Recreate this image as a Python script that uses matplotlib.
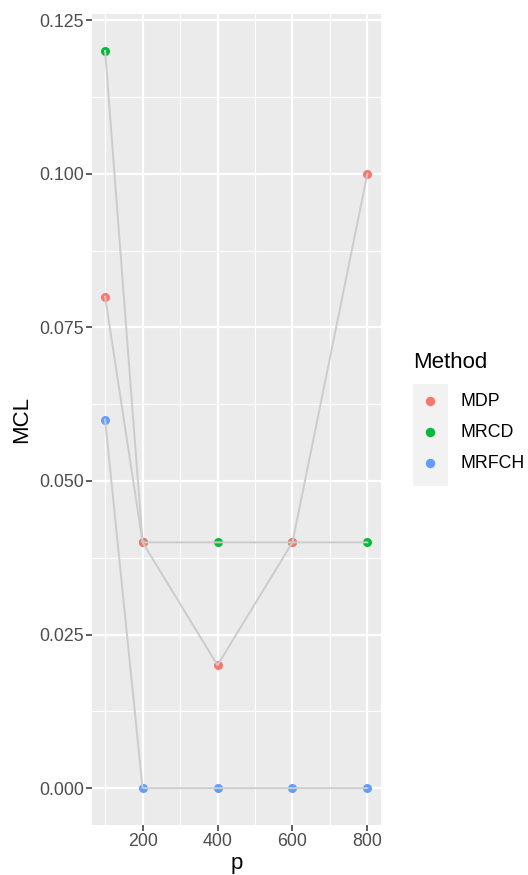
import matplotlib
matplotlib.use("Agg")
import matplotlib.pyplot as plt
from matplotlib.lines import Line2D
from matplotlib.patches import Rectangle
import numpy as np

plt.rcParams['font.family'] = ['Liberation Sans', 'DejaVu Sans']

p = [100, 200, 400, 600, 800]
methods = ["MDP", "MRCD", "MRFCH"]
mcl_mdp = [0.08, 0.04, 0.02, 0.04, 0.10]
mcl_mrcd = [0.12, 0.04, 0.04, 0.04, 0.04]
mcl_mrfch = [0.06, 0.00, 0.00, 0.00, 0.00]
colors = {"MDP": "#F8766D", "MRCD": "#00BA38", "MRFCH": "#619CFF"}
series = {"MDP": mcl_mdp, "MRCD": mcl_mrcd, "MRFCH": mcl_mrfch}

W, H = 528, 875
fig = plt.figure(figsize=(W/100, H/100), dpi=100)
ax = fig.add_axes([92/W, 1-825/H, (380.5-92)/W, (825-14)/H])
ax.set_facecolor("#EBEBEB")

# points (drawn first, lines over them)
for m in ["MRFCH", "MRCD", "MDP"]:
    ax.scatter(p, series[m], s=42, color=colors[m], zorder=3, linewidths=0)
for m in methods:
    ax.plot(p, series[m], color="#CCCCCC", lw=1.4, zorder=4)

ax.set_xlim(65, 835)
ax.set_ylim(-0.006, 0.126)
ax.set_xticks([200, 400, 600, 800])
ax.set_xticks([100, 300, 500, 700], minor=True)
ax.set_yticks([0.0, 0.025, 0.05, 0.075, 0.1, 0.125])
ax.set_yticklabels(["0.000", "0.025", "0.050", "0.075", "0.100", "0.125"])
ax.set_yticks(np.arange(0.0125, 0.125, 0.025), minor=True)
ax.grid(which="major", color="white", lw=1.6, zorder=1)
ax.grid(which="minor", color="white", lw=0.8, zorder=1)
ax.set_axisbelow(True)
for s in ax.spines.values():
    s.set_visible(False)
ax.tick_params(which="major", length=4, width=1.1, color="#333333",
               labelsize=12.8, labelcolor="#4D4D4D", pad=2)
ax.tick_params(which="minor", length=0)
ax.set_xlabel("p", fontsize=16, labelpad=2)
ax.set_ylabel("MCL", fontsize=16, labelpad=5)

# legend (manual, ggplot style)
fig.patches.append(Rectangle((413/W, 1-486/H), 35/W, 102/H, transform=fig.transFigure,
                             facecolor="#F2F2F2", edgecolor="none", zorder=0))
fig.text(413/W, 1-362/H, "Method", fontsize=16, ha="left", va="center")
for i, m in enumerate(methods):
    yy = 1 - (401 + 31*i)/H
    fig.add_artist(Line2D([430/W], [yy], transform=fig.transFigure, marker='o',
                          linestyle='', markersize=6.8, markerfacecolor=colors[m],
                          markeredgewidth=0))
    fig.text(460/W, yy, m, fontsize=12.8, ha="left", va="center")

fig.savefig("out.png", dpi=100)
